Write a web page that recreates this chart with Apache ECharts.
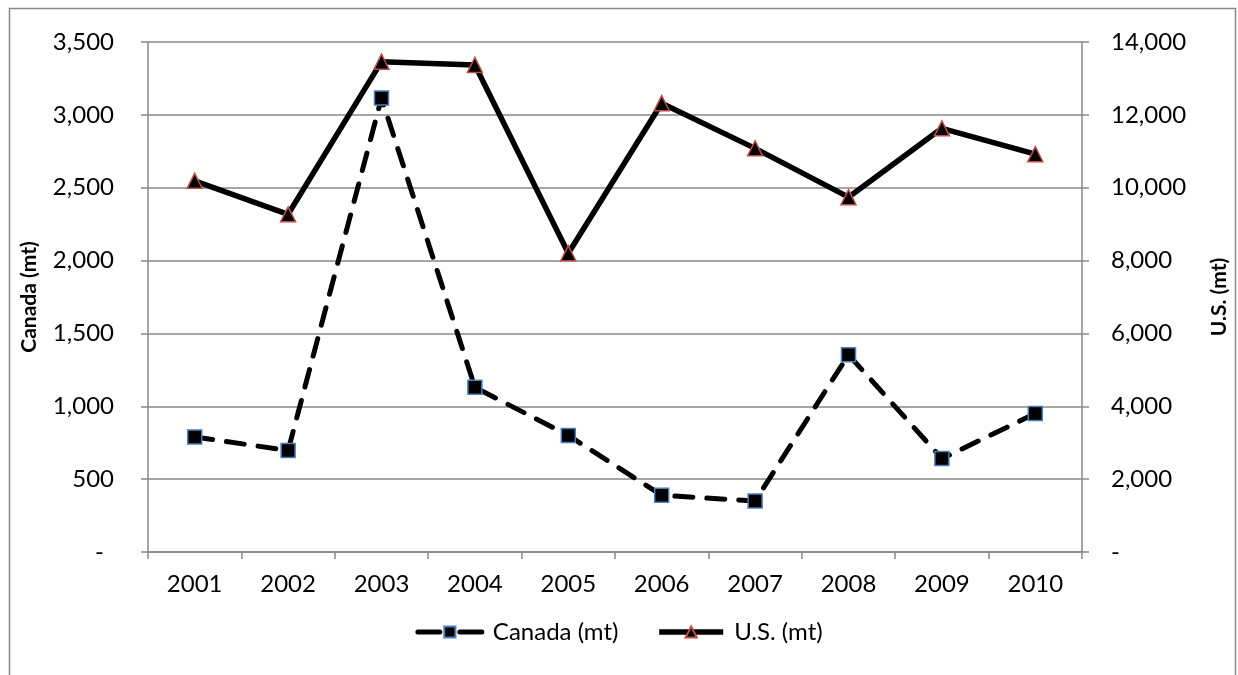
<!DOCTYPE html>
<html>
<head>
<meta charset="utf-8">
<script src="https://cdn.jsdelivr.net/npm/echarts@6/dist/echarts.min.js"></script>
<style>
html,body{margin:0;padding:0;background:#fff;}
#chart{width:1238px;height:675px;}
</style>
</head>
<body>
<div id="chart"></div>
<script>
const years = ['2001','2002','2003','2004','2005','2006','2007','2008','2009','2010'];
const canada = [789, 697, 3115, 1130, 800, 389, 350, 1354, 641, 950];
const us = [10190, 9270, 13460, 13370, 8200, 12320, 11080, 9740, 11630, 10920];
const leftTicks = {min: 0, max: 3500, interval: 500};
const rightTicks = {min: 0, max: 14000, interval: 2000};

const FONT = 'Lato, "Open Sans", sans-serif';
const GRAY = '#898989';
const FS = 24;

function fmt(v, pad) {
  if (v === 0) return pad ? '{d|-}' : '-';
  return v.toLocaleString('en-US');
}

const chart = echarts.init(document.getElementById('chart'), null, {renderer: 'canvas'});
chart.setOption({
  animation: false,
  textStyle: {fontFamily: FONT},
  graphic: [{
    type: 'rect', left: 7, top: 6,
    shape: {width: 1226, height: 700},
    style: {fill: 'none', stroke: GRAY, lineWidth: 1.5}
  }],
  grid: {left: 148, right: 156, top: 42, bottom: 123, containLabel: false},
  legend: {
    bottom: 26, left: 'center',
    itemWidth: 64, itemHeight: 14, itemGap: 38,
    textStyle: {fontSize: FS, color: '#000', fontFamily: FONT, padding: [0, 0, 0, 6]},
    data: [
      {name: 'Canada (mt)', lineStyle: {width: 5, type: [22, 20], cap: 'round', color: '#000'}},
      {name: 'U.S. (mt)', lineStyle: {width: 5.5, color: '#000'}}
    ]
  },
  xAxis: {
    type: 'category', data: years, boundaryGap: true,
    axisLine: {lineStyle: {color: GRAY, width: 1.5}},
    axisTick: {show: true, length: 7, lineStyle: {color: GRAY, width: 1.5}},
    axisLabel: {fontSize: FS, color: '#000', margin: 20, fontFamily: FONT}
  },
  yAxis: [{
    type: 'value', position: 'left', min: leftTicks.min, max: leftTicks.max, interval: leftTicks.interval,
    name: 'Canada (mt)', nameLocation: 'middle', nameRotate: 90, nameGap: 108,
    nameTextStyle: {fontSize: 21, fontWeight: 'bold', color: '#000', fontFamily: FONT},
    axisLine: {show: true, lineStyle: {color: GRAY, width: 1.5}},
    axisTick: {show: true, length: 7, lineStyle: {color: GRAY, width: 1.5}},
    splitLine: {show: true, lineStyle: {color: GRAY, width: 1.5}},
    axisLabel: {
      fontSize: FS, color: '#000', margin: 34, fontFamily: FONT,
      formatter: v => fmt(v, true),
      rich: {d: {fontSize: FS, color: '#000', fontFamily: FONT, padding: [0, 10, 0, 0]}}
    }
  }, {
    type: 'value', position: 'right', min: rightTicks.min, max: rightTicks.max, interval: rightTicks.interval,
    name: 'U.S. (mt)', nameLocation: 'middle', nameRotate: 90, nameGap: 127,
    nameTextStyle: {fontSize: 21, fontWeight: 'bold', color: '#000', fontFamily: FONT},
    axisLine: {show: true, lineStyle: {color: GRAY, width: 1.5}},
    axisTick: {show: true, length: 7, lineStyle: {color: GRAY, width: 1.5}},
    splitLine: {show: false},
    axisLabel: {
      fontSize: FS, color: '#000', margin: 29, fontFamily: FONT,
      formatter: v => fmt(v, false)
    }
  }],
  series: [{
    name: 'Canada (mt)', type: 'line', yAxisIndex: 0, data: canada,
    symbol: 'rect', symbolSize: 14,
    lineStyle: {color: '#000', width: 5, type: [18, 14], cap: 'round'},
    itemStyle: {color: '#000', borderColor: '#4a7ebb', borderWidth: 1.5},
    z: 3
  }, {
    name: 'U.S. (mt)', type: 'line', yAxisIndex: 1, data: us,
    symbol: 'triangle', symbolSize: 15,
    lineStyle: {color: '#000', width: 5.5},
    itemStyle: {color: '#000', borderColor: '#be4b48', borderWidth: 1.5},
    z: 2
  }]
});
</script>
</body>
</html>
